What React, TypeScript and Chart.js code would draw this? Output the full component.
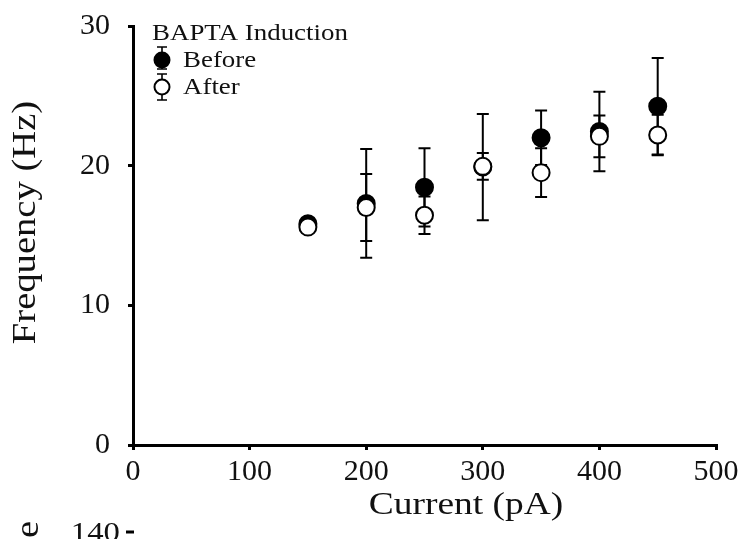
import { useEffect, useRef } from 'react';
import { Chart, registerables } from 'chart.js';

Chart.register(...registerables);

// ---- data ----
const currents = [150, 200, 250, 300, 350, 400, 450];
const beforeMean = [15.85, 17.3, 18.45, 19.9, 22.0, 22.45, 24.25];
const beforeErr = [0.3, 3.9, 2.8, 3.8, 1.95, 2.85, 3.45];
const afterMean = [15.6, 17.0, 16.45, 19.95, 19.5, 22.1, 22.2];
const afterErr = [0.3, 2.4, 1.35, 0.95, 1.75, 1.5, 1.45];
const xTicks = [0, 100, 200, 300, 400, 500];
const yTicks = [0, 10, 20, 30];
const legendTitle = 'BAPTA Induction';
const seriesNames = ['Before', 'After'];
const xTitle = 'Current (pA)';
const yTitle = 'Frequency (Hz)';

const FONT = '"Liberation Serif", "Times New Roman", serif';
const STRETCH = 1.17;

function drawStretched(ctx: CanvasRenderingContext2D, text: string, x: number, y: number, size: number, align: CanvasTextAlign, rot = 0) {
  ctx.save();
  ctx.translate(x, y);
  if (rot) ctx.rotate(rot);
  ctx.scale(STRETCH, 1);
  ctx.font = `${size}px ${FONT}`;
  ctx.fillStyle = '#111';
  ctx.textAlign = align;
  ctx.textBaseline = 'alphabetic';
  ctx.fillText(text, 0, 0);
  ctx.restore();
}

const errorBarPlugin = {
  id: 'errorBars',
  beforeDatasetsDraw(chart: any) {
    const ctx = chart.ctx as CanvasRenderingContext2D;
    const xs = chart.scales.x;
    const ys = chart.scales.y;
    ctx.save();
    ctx.strokeStyle = '#000';
    ctx.lineWidth = 2;
    chart.data.datasets.forEach((ds: any) => {
      ds.data.forEach((p: any, i: number) => {
        const e = ds.errors[i];
        const px = xs.getPixelForValue(p.x);
        const top = ys.getPixelForValue(p.y + e);
        const bot = ys.getPixelForValue(p.y - e);
        ctx.beginPath();
        ctx.moveTo(px, top);
        ctx.lineTo(px, bot);
        ctx.moveTo(px - 6, top);
        ctx.lineTo(px + 6, top);
        ctx.moveTo(px - 6, bot);
        ctx.lineTo(px + 6, bot);
        ctx.stroke();
      });
    });
    ctx.restore();
  },
};

const textPlugin = {
  id: 'texts',
  afterDraw(chart: any) {
    const ctx = chart.ctx as CanvasRenderingContext2D;
    const area = chart.chartArea;
    // axis titles
    drawStretched(ctx, xTitle, 466, 514, 32, 'center');
    drawStretched(ctx, yTitle, 35, (area.top + area.bottom) / 2 - 13, 33, 'center', -Math.PI / 2);
    // legend
    drawStretched(ctx, legendTitle, 152, 40, 23, 'left');
    drawStretched(ctx, seriesNames[0], 183, 67, 23, 'left');
    drawStretched(ctx, seriesNames[1], 183, 94, 23, 'left');
    ctx.save();
    ctx.strokeStyle = '#000';
    ctx.lineWidth = 1.6;
    const lx = 162;
    const bars: [number, number][] = [[47, 69], [74, 100]];
    bars.forEach(([a, b]) => {
      ctx.beginPath();
      ctx.moveTo(lx, a); ctx.lineTo(lx, b);
      ctx.moveTo(lx - 5, a); ctx.lineTo(lx + 5, a);
      ctx.moveTo(lx - 5, b); ctx.lineTo(lx + 5, b);
      ctx.stroke();
    });
    ctx.lineWidth = 2;
    ctx.beginPath();
    ctx.arc(lx, 60, 7.5, 0, Math.PI * 2);
    ctx.fillStyle = '#000';
    ctx.fill();
    ctx.stroke();
    ctx.beginPath();
    ctx.arc(lx, 87, 7.5, 0, Math.PI * 2);
    ctx.fillStyle = '#fff';
    ctx.fill();
    ctx.stroke();
    ctx.restore();
    // cut-off part of the next panel
    drawStretched(ctx, '140', 120, 541, 28, 'right');
    ctx.save();
    ctx.strokeStyle = '#000';
    ctx.lineWidth = 3;
    ctx.beginPath();
    ctx.moveTo(126, 532);
    ctx.lineTo(134, 532);
    ctx.stroke();
    ctx.restore();
    drawStretched(ctx, 'e', 38, 538, 33, 'left', -Math.PI / 2);
  },
};

export default function App() {
  const ref = useRef<HTMLCanvasElement>(null);
  useEffect(() => {
    const canvas = ref.current!;
    const chart = new Chart(canvas, {
      type: 'scatter',
      data: {
        datasets: [
          {
            label: seriesNames[0],
            data: currents.map((x, i) => ({ x, y: beforeMean[i] })),
            backgroundColor: '#000',
            borderColor: '#000',
            borderWidth: 2,
            pointRadius: 8.5,
            order: 2,
            errors: beforeErr,
          } as any,
          {
            label: seriesNames[1],
            data: currents.map((x, i) => ({ x, y: afterMean[i] })),
            backgroundColor: '#fff',
            borderColor: '#000',
            borderWidth: 2,
            pointRadius: 8.5,
            order: 1,
            errors: afterErr,
          } as any,
        ],
      },
      options: {
        responsive: false,
        animation: false,
        layout: { padding: { left: 0, right: 40, top: 26, bottom: 0 } },
        plugins: { legend: { display: false }, tooltip: { enabled: false } },
        scales: {
          x: {
            type: 'linear',
            min: xTicks[0],
            max: xTicks[xTicks.length - 1],
            afterBuildTicks: (s: any) => { s.ticks = xTicks.map((v) => ({ value: v })); },
            ticks: { font: { family: FONT, size: 30 }, color: '#111', padding: 4 },
            grid: { drawOnChartArea: false, drawTicks: true, tickLength: 5, color: '#000', lineWidth: 3 },
            border: { display: true, color: '#000', width: 3 },
            afterFit: (s: any) => { s.height = 94; s.paddingLeft = 0; s.paddingRight = 0; },
          },
          y: {
            type: 'linear',
            min: yTicks[0],
            max: yTicks[yTicks.length - 1],
            afterBuildTicks: (s: any) => { s.ticks = yTicks.map((v) => ({ value: v })); },
            ticks: { font: { family: FONT, size: 30 }, color: '#111', padding: 18 },
            grid: { drawOnChartArea: false, drawTicks: true, tickLength: 5, color: '#000', lineWidth: 3 },
            border: { display: true, color: '#000', width: 3 },
            afterFit: (s: any) => { s.width = 133; s.paddingTop = 0; s.paddingBottom = 0; },
          },
        },
      },
      plugins: [errorBarPlugin, textPlugin],
    });
    return () => chart.destroy();
  }, []);
  return (
    <div style={{ position: 'fixed', left: 0, top: 0, width: 756, height: 539, background: '#fff' }}>
      <canvas ref={ref} width={756} height={539} style={{ display: 'block' }} />
    </div>
  );
}
